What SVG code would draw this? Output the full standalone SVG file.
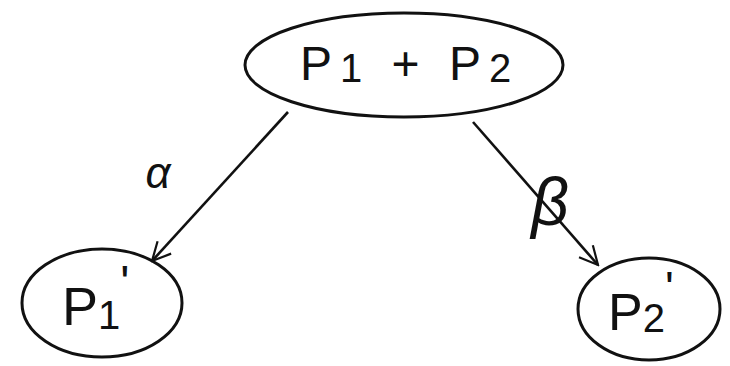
<svg xmlns="http://www.w3.org/2000/svg" width="730" height="366" viewBox="0 0 730 366">
<style>
.node{fill:none;stroke:#111;stroke-width:3}
.lbl{font-family:"Liberation Sans",Arial,sans-serif;fill:#111;font-weight:normal}
.edge{fill:none;stroke:#111;stroke-width:2.6}
</style>
<defs>
<marker id="arr" viewBox="0 0 12 12" refX="11" refY="6" markerWidth="22" markerHeight="22" orient="auto" markerUnits="userSpaceOnUse">
<path d="M1,1 L11,6 L1,11" fill="none" stroke="#111" stroke-width="1.2"/>
</marker>
</defs>
<rect width="730" height="366" fill="#fff"/>
<g id="node-top">
<ellipse class="node" cx="404" cy="65" rx="159" ry="52"/>
<text class="lbl" x="300" y="80" font-size="48" letter-spacing="8">P<tspan font-size="40" dy="2">1</tspan><tspan dy="-2"> + P</tspan><tspan font-size="40" dy="2">2</tspan></text>
</g>
<g id="node-p1">
<ellipse class="node" cx="102" cy="303" rx="80" ry="54"/>
<text class="lbl" x="62" y="325" font-size="54">P<tspan font-size="40" dy="4">1</tspan><tspan font-size="48" dy="-30">'</tspan></text>
</g>
<g id="node-p2">
<ellipse class="node" cx="649" cy="309" rx="71" ry="51"/>
<text class="lbl" x="608" y="330" font-size="52">P<tspan font-size="40" dy="2">2</tspan><tspan font-size="46" dy="-28">'</tspan></text>
</g>
<g id="connectors">
<line class="edge" x1="288" y1="112" x2="152" y2="261" marker-end="url(#arr)"/>
<line class="edge" x1="473" y1="122" x2="598" y2="265" marker-end="url(#arr)"/>
<text class="lbl" x="158" y="188" font-size="44" text-anchor="middle" font-style="italic">α</text>
<text class="lbl" x="550" y="225" font-size="66" text-anchor="middle" font-style="italic">β</text>
</g>
</svg>
